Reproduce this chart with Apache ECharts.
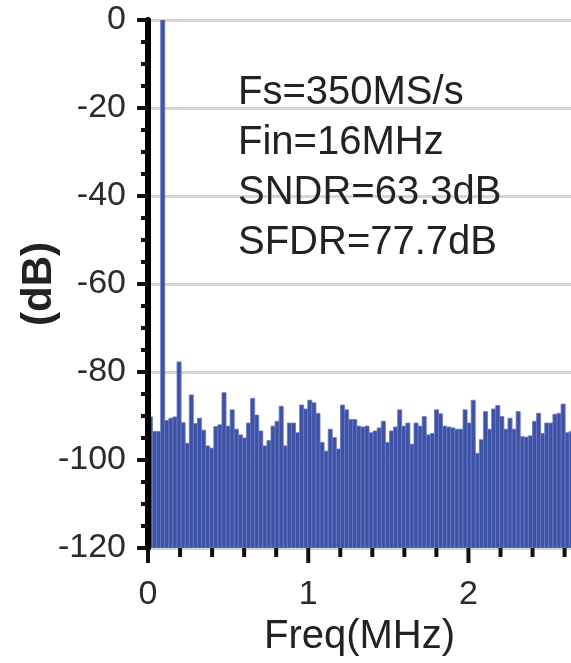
<!DOCTYPE html>
<html lang="en">

<head>
  <meta charset="UTF-8">
  <title>FFT spectrum</title>
  <style>
    html, body { margin: 0; padding: 0; background: #fff; }
  </style>
</head>

<body>
  <div id="main" style="width: 571px;height: 663px;"></div>
</body>
<script src="https://cdn.jsdelivr.net/npm/echarts@6/dist/echarts.min.js"></script>
<script>
  // FFT bins (MHz): first bin centre and bin spacing
  var freqStart = 0.0154;
  var freqStep = 0.0255;

  // bin magnitudes in dB
  var dbValues = [
    -90.2, -93.5, -93.5, 0, -91, -90.5, -90.2, -77.7, -91.5, -96.2,
    -85.2, -91.7, -90.5, -93.2, -96.8, -97.3, -92.4, -92, -84.7, -92.3,
    -88.6, -93, -94.3, -95, -91.6, -86, -89.8, -93.4, -96.8, -95.6,
    -92.3, -91.2, -87.8, -96.8, -91.6, -91.6, -93.8, -87.5, -88.4, -86.4,
    -87, -89.4, -96, -98, -93, -94.9, -97.5, -87.5, -88.6, -90.8,
    -90.8, -92.3, -92.5, -92.3, -93.8, -93.4, -92.7, -91.2, -96, -93.4,
    -92.5, -88.6, -92.3, -91.6, -96.4, -91.6, -92.3, -90.1, -94.3, -94,
    -88.6, -89.5, -92.3, -92.5, -92.7, -93, -93, -88.6, -91.6, -86.4,
    -98.5, -95.4, -89, -93, -88.4, -87.6, -90.1, -93, -90.5, -93,
    -89, -94.7, -94.8, -94.5, -91.2, -89.4, -94, -91.6, -91.6, -89.6,
    -89.4, -87.3, -93.8, -93.5
  ];

  var yTicks = [-120, -100, -80, -60, -40, -20, 0];
  var xTicks = [0, 1, 2];
  var xMax = 2.64;
  var yMinorStep = 5;
  var xMinorStep = 0.2;
  var infoLines = ['Fs=350MS/s', 'Fin=16MHz', 'SNDR=63.3dB', 'SFDR=77.7dB'];

  var font = 'Liberation Sans, Arial, Helvetica, sans-serif';
  var yMin = yTicks[0];
  var yMax = yTicks[yTicks.length - 1];

  var points = [];
  for (var i = 0; i < dbValues.length; i++) {
    points.push([freqStart + i * freqStep, dbValues[i]]);
  }

  // tick marks: [value, isMajor, axis]  (axis 0 = x, 1 = y)
  var tickData = [];
  for (var k = 0; k * yMinorStep <= yMax - yMin + 1e-9; k++) {
    var yv = yMin + k * yMinorStep;
    tickData.push([yv, yTicks.indexOf(yv) >= 0 ? 1 : 0, 1]);
  }
  for (var m = 0; m * xMinorStep <= xMax + 1e-9; m++) {
    var xv = Math.round(m * xMinorStep * 10) / 10;
    tickData.push([xv, xTicks.indexOf(xv) >= 0 ? 1 : 0, 0]);
  }

  var chartDom = document.getElementById('main');
  var myChart = echarts.init(chartDom);
  var option;

  option = {
    animation: false,
    backgroundColor: '#fff',
    grid: {
      left: 148,
      right: 0,
      top: 20,
      bottom: 115,
      outerBoundsMode: 'none'
    },
    xAxis: {
      type: 'value',
      min: 0,
      max: xMax,
      interval: 1,
      name: 'Freq(MHz)',
      nameLocation: 'middle',
      nameGap: 68,
      nameTextStyle: { fontSize: 40, color: '#222', fontFamily: font },
      axisLine: { show: false },
      axisTick: { show: false },
      splitLine: { show: false },
      axisLabel: {
        margin: 30,
        fontSize: 34,
        color: '#2a2a2a',
        fontFamily: font,
        formatter: function (v) { return xTicks.indexOf(v) >= 0 ? String(v) : ''; }
      }
    },
    yAxis: [
      {
        // grid lines, labels and name (behind the bars)
        type: 'value',
        min: yMin,
        max: yMax,
        interval: 20,
        name: '(dB)',
        nameLocation: 'middle',
        nameGap: 88,
        nameMoveOverlap: false,
        nameRotate: 90,
        nameTextStyle: { fontSize: 42, fontWeight: 'bold', color: '#222', fontFamily: font },
        axisLine: { show: false },
        axisTick: { show: false },
        splitLine: { show: true, lineStyle: { color: '#d6d6d6', width: 3 } },
        axisLabel: {
          margin: 22,
          fontSize: 34,
          color: '#2a2a2a',
          fontFamily: font
        }
      },
      {
        // black axis line drawn over the bars
        type: 'value',
        position: 'left',
        min: yMin,
        max: yMax,
        interval: 20,
        z: 10,
        axisLine: { show: true, onZero: false, lineStyle: { color: '#000', width: 6 } },
        axisTick: { show: false },
        splitLine: { show: false },
        axisLabel: { show: false }
      }
    ],
    graphic: [
      {
        type: 'text',
        left: 238,
        top: 68,
        z: 20,
        style: {
          text: infoLines.join('\n'),
          font: '40px ' + font,
          lineHeight: 50,
          fill: '#222'
        }
      }
    ],
    series: [
      {
        name: 'spectrum',
        type: 'custom',
        clip: true,
        yAxisIndex: 0,
        encode: { x: 0, y: 1 },
        data: points,
        renderItem: function (params, api) {
          var f = api.value(0);
          var v = api.value(1);
          var top = api.coord([f, v]);
          var base = api.coord([f, yMin]);
          var w = api.size([freqStep, 0])[0];
          return {
            type: 'rect',
            shape: { x: top[0] - w / 2, y: top[1], width: w, height: base[1] - top[1] },
            style: { fill: '#3d52a6', stroke: '#6878c2', lineWidth: 0.8 }
          };
        }
      },
      {
        name: 'ticks',
        type: 'custom',
        clip: false,
        z: 12,
        silent: true,
        yAxisIndex: 0,
        data: tickData,
        encode: { x: -1, y: -1 },
        renderItem: function (params, api) {
          var v = api.value(0);
          var major = api.value(1) === 1;
          var onY = api.value(2) === 1;
          var p, shape;
          if (onY) {
            p = api.coord([0, v]);
            shape = { x1: p[0] - (major ? 11 : 7), y1: p[1], x2: p[0], y2: p[1] };
          } else {
            p = api.coord([v, yMin]);
            shape = { x1: p[0], y1: p[1], x2: p[0], y2: p[1] + (major ? 15 : 9) };
          }
          return {
            type: 'line',
            shape: shape,
            style: { stroke: '#111', lineWidth: 4 }
          };
        }
      }
    ]
  };

  option && myChart.setOption(option);
</script>

</html>
